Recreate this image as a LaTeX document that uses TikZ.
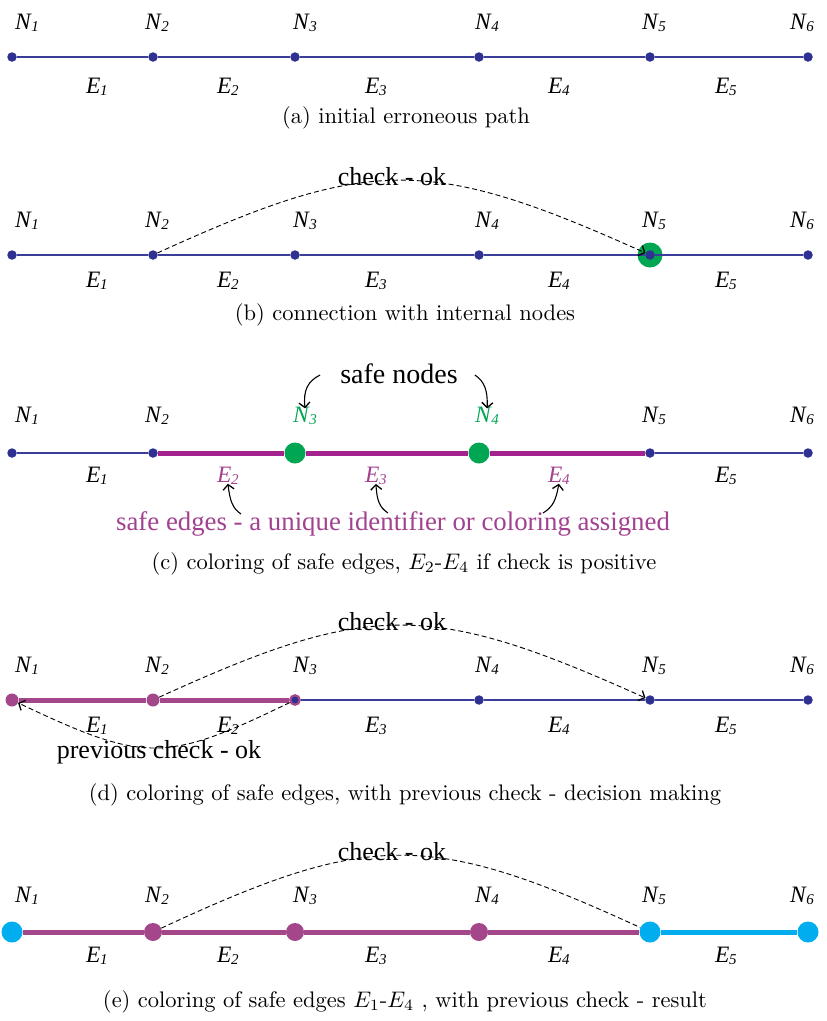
\documentclass[tikz,border=0pt]{standalone}
\usepackage{fontspec}
\newfontfamily\labfont{Liberation Serif}
\usetikzlibrary{positioning,arrows.meta}

\definecolor{dotblue}{RGB}{46,49,146}
\definecolor{pathblue}{RGB}{58,61,154}
\definecolor{safegreen}{RGB}{0,166,81}
\definecolor{safepurple}{RGB}{163,34,142}
\definecolor{donepurple}{RGB}{163,71,138}
\definecolor{textpurple}{RGB}{162,65,143}
\definecolor{resultcyan}{RGB}{0,174,239}

% italic letter with a small italic index
\newcommand{\nlbl}[2]{\textit{#1}\kern-0.5pt\raisebox{-2.5pt}{\fontsize{15}{15}\selectfont\textit{#2}}}
% caption set at 10pt and blown up
\newcommand{\capt}[1]{\scalebox{2.25}{\fontsize{10}{12}\selectfont #1}}

\tikzset{
  lab/.style={font=\labfont\fontsize{23.5}{26}\selectfont, anchor=base west, inner sep=0pt},
  caption/.style={anchor=base, inner sep=0pt},
  note/.style={font=\labfont\fontsize{26}{28}\selectfont, inner sep=0pt},
  dot/.style={circle, fill=dotblue, inner sep=0pt, minimum size=9.5pt},
  bigdot/.style={circle, fill=#1, inner sep=0pt, minimum size=20pt},
  edge/.style={draw=pathblue, line width=1.3pt},
  safeedge/.style={draw=#1, line width=5pt},
  check/.style={dash pattern=on 5pt off 3pt, line width=0.9pt},
  tip/.style={-{Straight Barb[length=5pt,width=11pt,line width=1.3pt]}},
  pointer/.style={line width=1.1pt, -{Straight Barb[length=5pt,width=11pt,line width=1.3pt]}},
}

\begin{document}
\begin{tikzpicture}[x=1pt,y=-1pt]
  \useasboundingbox (0,0) rectangle (827,1021);

  % (a) initial erroneous path
  \foreach \i/\x in {1/12,2/153,3/295,4/479,5/650,6/808}
    \node[dot] (a\i) at (\x,57) {};
  \draw[edge] (a1) -- (a2) -- (a3) -- (a4) -- (a5) -- (a6);
  \foreach \i/\x in {1/15,2/145,3/293,4/475,5/642,6/790}
    \node[lab] (aN\i) at (\x,29) {\nlbl{N}{\i}};
  \foreach \i/\x in {1/86,2/217,3/365,4/548,5/715}
    \node[lab] (aE\i) at (\x,93) {\nlbl{E}{\i}};
  \node[caption] (capa) at (406,123) {\capt{(a) initial erroneous path}};

  % (b) connection with internal nodes
  \foreach \i/\x in {1/12,2/153,3/295,4/479,6/808}
    \node[dot] (b\i) at (\x,255) {};
  \node[bigdot=safegreen, minimum size=25pt] (b5ring) at (650,255) {};
  \node[dot] (b5) at (650,255) {};
  \draw[edge] (b1) -- (b2) -- (b3) -- (b4) -- (b5) -- (b6);
  \foreach \i/\x in {1/15,2/145,3/293,4/475,5/642,6/790}
    \node[lab] (bN\i) at (\x,227) {\nlbl{N}{\i}};
  \foreach \i/\x in {1/86,2/217,3/365,4/548,5/715}
    \node[lab] (bE\i) at (\x,287) {\nlbl{E}{\i}};
  \node[note] (bcheck) at (392,177) {check - ok};
  \draw[check, tip] (b2) .. controls (370,156) and (430,156) .. (b5);
  \node[caption] (capb) at (405,320) {\capt{(b) connection with internal nodes}};

  % (c) coloring of safe edges
  \node[dot] (c1) at (12,453) {};
  \node[dot] (c2) at (153,453) {};
  \node[bigdot=safegreen, minimum size=21pt] (c3) at (295,453) {};
  \node[bigdot=safegreen, minimum size=21pt] (c4) at (479,453) {};
  \node[dot] (c5) at (650,453) {};
  \node[dot] (c6) at (808,453) {};
  \draw[edge] (c1) -- (c2);
  \draw[edge] (c5) -- (c6);
  \draw[safeedge=safepurple] (c2) -- (c3) -- (c4) -- (c5);
  \node[lab] (cN1) at (15,422) {\nlbl{N}{1}};
  \node[lab] (cN2) at (145,422) {\nlbl{N}{2}};
  \node[lab, text=safegreen] (cN3) at (293,422) {\nlbl{N}{3}};
  \node[lab, text=safegreen] (cN4) at (475,422) {\nlbl{N}{4}};
  \node[lab] (cN5) at (642,422) {\nlbl{N}{5}};
  \node[lab] (cN6) at (790,422) {\nlbl{N}{6}};
  \node[lab] (cE1) at (86,482) {\nlbl{E}{1}};
  \node[lab, text=textpurple] (cE2) at (217,482) {\nlbl{E}{2}};
  \node[lab, text=textpurple] (cE3) at (365,482) {\nlbl{E}{3}};
  \node[lab, text=textpurple] (cE4) at (548,482) {\nlbl{E}{4}};
  \node[lab] (cE5) at (715,482) {\nlbl{E}{5}};
  \node[note, font=\labfont\fontsize{28}{30}\selectfont] (safenodes) at (399,374) {safe nodes};
  \draw[pointer] ([shift={(-20,1)}]safenodes.west) .. controls (308,381) and (303,390) .. ([yshift=-2]cN3.north);
  \draw[pointer] ([shift={(17,1)}]safenodes.east) .. controls (484,381) and (488,390) .. ([yshift=-2]cN4.north);
  \node[note, text=textpurple, anchor=base, font=\labfont\fontsize{26.8}{28}\selectfont] (safeedges) at (393,530)
    {safe edges - a unique identifier or coloring assigned};
  \coordinate (tailE2) at (241,514);
  \coordinate (tailE3) at (388,513);
  \coordinate (tailE4) at (543,513);
  \draw[pointer] (tailE2) .. controls (232,508) and (230,500) .. ([yshift=1]cE2.south);
  \draw[pointer] (tailE3) .. controls (379,507) and (377,500) .. ([yshift=1]cE3.south);
  \draw[pointer] (tailE4) .. controls (553,507) and (556,500) .. ([yshift=1]cE4.south);
  \node[caption] (capc) at (404,569) {\capt{(c) coloring of safe edges, $E_2$-$E_4$ if check is positive}};

  % (d) coloring of safe edges, with previous check
  \node[bigdot=donepurple, minimum size=13pt] (d1) at (12,700) {};
  \node[bigdot=donepurple, minimum size=13pt] (d2) at (153,700) {};
  \node[dot, draw=donepurple, line width=2.2pt] (d3) at (295,700) {};
  \foreach \i/\x in {4/479,5/650,6/808}
    \node[dot] (d\i) at (\x,700) {};
  \draw[safeedge=donepurple] (d1) -- (d2) -- (d3);
  \draw[edge] (d3) -- (d4) -- (d5) -- (d6);
  \foreach \i/\x in {1/15,2/145,3/293,4/475,5/642,6/790}
    \node[lab] (dN\i) at (\x,672) {\nlbl{N}{\i}};
  \foreach \i/\x in {1/86,2/217,3/365,4/548,5/715}
    \node[lab] (dE\i) at (\x,732) {\nlbl{E}{\i}};
  \node[note] (dcheck) at (392,622) {check - ok};
  \draw[check, tip] (d2) .. controls (370,601) and (430,601) .. (d5);
  \node[note] (dprev) at (159,752) {previous check - ok};
  \draw[check, tip] (d3) .. controls (165,763) and (145,763) .. (d1);
  \node[caption] (capd) at (405,800) {\capt{(d) coloring of safe edges, with previous check - decision making}};

  % (e) coloring of safe edges, result
  \node[bigdot=resultcyan, minimum size=21pt] (e1) at (12,932) {};
  \foreach \i/\x in {2/153,3/295,4/479}
    \node[bigdot=donepurple, minimum size=18pt] (e\i) at (\x,932) {};
  \node[bigdot=resultcyan, minimum size=21pt] (e5) at (650,932) {};
  \node[bigdot=resultcyan, minimum size=21pt] (e6) at (808,932) {};
  \draw[safeedge=donepurple] (e1) -- (e2) -- (e3) -- (e4) -- (e5);
  \draw[safeedge=resultcyan] (e5) -- (e6);
  \foreach \i/\x in {1/15,2/145,3/293,4/475,5/642,6/790}
    \node[lab] (eN\i) at (\x,902) {\nlbl{N}{\i}};
  \foreach \i/\x in {1/86,2/217,3/365,4/548,5/715}
    \node[lab] (eE\i) at (\x,962) {\nlbl{E}{\i}};
  \node[note] (echeck) at (392,852) {check - ok};
  \draw[check] (e2) .. controls (370,831) and (430,831) .. (e5);
  \node[caption] (cape) at (405,1007) {\capt{(e) coloring of safe edges $E_1$-$E_4$ , with previous check - result}};
\end{tikzpicture}
\end{document}
